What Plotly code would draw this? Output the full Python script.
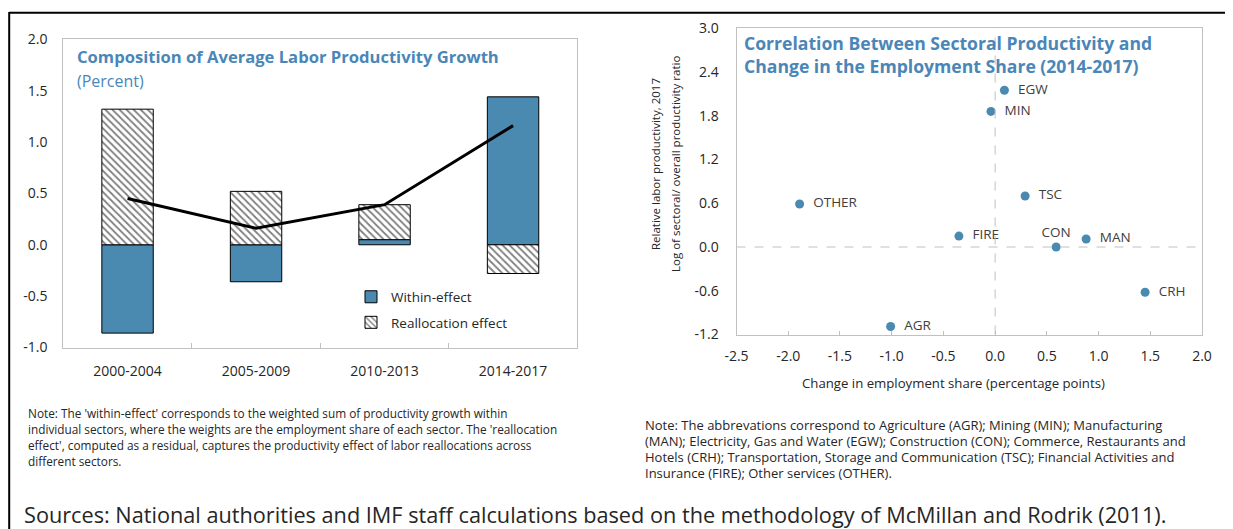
import plotly.graph_objects as go

# target picture size; the page body adds an 8px margin, so the figure is smaller by that
W, H = 1233, 529
OFF = 8
FW, FH = W - OFF, H - OFF

# left panel data
periods = ["2000-2004", "2005-2009", "2010-2013", "2014-2017"]
within_effect = [-0.86, -0.36, 0.05, 1.44]
realloc_effect = [1.32, 0.52, 0.34, -0.28]
total_growth = [0.45, 0.16, 0.39, 1.16]
left_yticks = [-1.0, -0.5, 0.0, 0.5, 1.0, 1.5, 2.0]
left_yticktext = ["-1.0", "-0.5", "0.0", "0.5", "1.0", "1.5", "2.0"]

# right panel data
sectors = ["EGW", "MIN", "TSC", "OTHER", "FIRE", "CON", "MAN", "CRH", "AGR"]
emp_share_change = [0.09, -0.04, 0.29, -1.89, -0.35, 0.59, 0.88, 1.45, -1.01]
rel_productivity = [2.15, 1.86, 0.70, 0.59, 0.15, 0.0, 0.11, -0.62, -1.09]
label_pos = ["middle right", "middle right", "middle right", "middle right", "middle right",
             "top center", "middle right", "middle right", "middle right"]
right_xticks = [-2.5, -2.0, -1.5, -1.0, -0.5, 0.0, 0.5, 1.0, 1.5, 2.0]
right_xticktext = ["-2.5", "-2.0", "-1.5", "-1.0", "-0.5", "0.0", "0.5", "1.0", "1.5", "2.0"]
right_yticks = [-1.2, -0.6, 0.0, 0.6, 1.2, 1.8, 2.4, 3.0]
right_yticktext = ["-1.2", "-0.6", "0.0", "0.6", "1.2", "1.8", "2.4", "3.0"]

BLUE = "#4a89b0"
TITLE_BLUE = "#4a86b8"
FONT = "Open Sans"
TXT = "#262626"


def px(x):
    return (x - OFF) / FW


def py(y):
    return 1 - (y - OFF) / FH


fig = go.Figure()

fig.add_trace(go.Bar(
    x=periods, y=within_effect, name="Within-effect", width=0.4, legendgroup="a",
    marker=dict(color=BLUE, line=dict(color="black", width=1)),
    xaxis="x", yaxis="y"))
fig.add_trace(go.Bar(
    x=periods, y=realloc_effect, name="Reallocation effect", width=0.4, legendgroup="b",
    marker=dict(color="white", line=dict(color="black", width=1),
                pattern=dict(shape="\\", fgcolor="black", bgcolor="white", size=5, solidity=0.35)),
    xaxis="x", yaxis="y"))
fig.add_trace(go.Scatter(
    x=periods, y=total_growth, mode="lines", line=dict(color="black", width=3),
    showlegend=False, xaxis="x", yaxis="y"))

fig.add_trace(go.Scatter(
    x=emp_share_change, y=rel_productivity, mode="markers+text",
    text=["  " + s if p == "middle right" else s for s, p in zip(sectors, label_pos)],
    textposition=label_pos, textfont=dict(family=FONT, size=13.5, color="#404040"),
    marker=dict(color=BLUE, size=9), showlegend=False, xaxis="x2", yaxis="y2"))

axis_common = dict(showline=True, mirror=True, linecolor="#c0c0c0", linewidth=1,
                   showgrid=False, zeroline=False, automargin=False,
                   tickfont=dict(family=FONT, size=14, color=TXT))

fig.update_layout(
    width=FW, height=FH, margin=dict(l=0, r=0, t=0, b=0),
    paper_bgcolor="white", plot_bgcolor="white",
    barmode="relative",
    font=dict(family=FONT, color=TXT),
    xaxis=dict(domain=[px(63.3), px(577.3)], type="category", ticks="inside", tickson="boundaries",
               ticklen=5, tickcolor="#c0c0c0", ticklabelstandoff=11, **axis_common),
    yaxis=dict(domain=[py(347.5), py(39.3)], range=[-1, 2], tickvals=left_yticks,
               ticktext=left_yticktext, ticks="", ticklabelstandoff=12, **axis_common),
    xaxis2=dict(domain=[px(736.5), px(1202)], range=[-2.5, 2.0], tickvals=right_xticks,
                ticktext=right_xticktext, ticks="inside", ticklen=4, tickcolor="#c0c0c0",
                ticklabelstandoff=9, anchor="y2", **axis_common),
    yaxis2=dict(domain=[py(334.5), py(28.3)], range=[-1.2, 3.0], tickvals=right_yticks,
                ticktext=right_yticktext, ticks="", ticklabelstandoff=14, anchor="x2",
                **axis_common),
    legend=dict(x=px(351), y=py(281.5), xanchor="left", yanchor="top",
                font=dict(family=FONT, size=13.5, color=TXT),
                bgcolor="rgba(0,0,0,0)", traceorder="grouped", tracegroupgap=5),
    showlegend=True,
)

# reference lines
fig.add_shape(type="line", xref="x2", yref="y2", x0=0, x1=0, y0=-1.2, y1=3.0,
              line=dict(color="#c0c0c0", width=1, dash="dash"))
fig.add_shape(type="line", xref="x2", yref="y2", x0=-2.5, x1=2.0, y0=0, y1=0,
              line=dict(color="#c0c0c0", width=1, dash="dash"))

# outer frame
fig.add_shape(type="line", xref="paper", yref="paper", x0=px(9), x1=1, y0=py(12.8), y1=py(12.8),
              line=dict(color="black", width=2))
fig.add_shape(type="line", xref="paper", yref="paper", x0=px(9.2), x1=px(9.2), y0=py(12), y1=0,
              line=dict(color="black", width=2))

ann = []
ann.append(dict(text="<b>Composition of Average Labor Productivity Growth</b>", x=px(75), y=py(57),
                font=dict(family=FONT, size=16.6, color=TITLE_BLUE)))
ann.append(dict(text="(Percent)", x=px(75), y=py(81), font=dict(family=FONT, size=16, color=TITLE_BLUE)))
ann.append(dict(text="<b>Correlation Between Sectoral Productivity and<br>Change in the Employment Share (2014-2017)</b>",
                x=px(742), y=py(54.5), align="left",
                font=dict(family=FONT, size=17.6, color=TITLE_BLUE)))
ann.append(dict(text="Change in employment share (percentage points)", x=px(953), y=py(383),
                xanchor="center", font=dict(family=FONT, size=13.2, color=TXT)))
ann.append(dict(text="Relative labor productivity, 2017", x=px(655), y=py(164), xanchor="center",
                textangle=-90, font=dict(family=FONT, size=11.5, color=TXT)))
ann.append(dict(text="Log of sectoral/ overall productivity ratio", x=px(675), y=py(164),
                xanchor="center", textangle=-90, font=dict(family=FONT, size=11.5, color=TXT)))

left_note = ["Note: The 'within-effect' corresponds to the weighted sum of productivity growth within",
             "individual sectors, where the weights are the employment share of each sector. The 'reallocation",
             "effect', computed as a residual, captures the productivity effect of labor reallocations across",
             "different sectors."]
right_note = ["Note: The abbrevations correspond to Agriculture (AGR); Mining (MIN); Manufacturing",
              "(MAN); Electricity, Gas and Water (EGW); Construction (CON); Commerce, Restaurants and",
              "Hotels (CRH); Transportation, Storage and Communication (TSC); Financial Activities and",
              "Insurance (FIRE); Other services (OTHER)."]
for i, line in enumerate(left_note):
    ann.append(dict(text=line, x=px(26), y=py(413 + 16 * i),
                    font=dict(family=FONT, size=11.8, color=TXT)))
for i, line in enumerate(right_note):
    ann.append(dict(text=line, x=px(643), y=py(425 + 16 * i),
                    font=dict(family=FONT, size=13, color=TXT)))
ann.append(dict(text="Sources: National authorities and IMF staff calculations based on the methodology of McMillan and Rodrik (2011).",
                x=px(22), y=py(514), font=dict(family=FONT, size=21.7, color=TXT)))

for a in ann:
    a.setdefault("xanchor", "left")
    a.update(xref="paper", yref="paper", yanchor="middle", showarrow=False)
fig.update_layout(annotations=ann)

fig.write_html("out.html")
